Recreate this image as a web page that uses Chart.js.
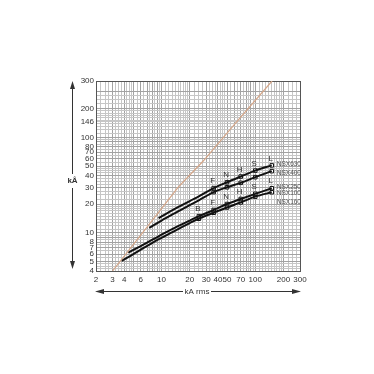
<!DOCTYPE html>
<html>
<head>
<meta charset="utf-8">
<script src="https://cdn.jsdelivr.net/npm/chart.js@4.4.1/dist/chart.umd.min.js"></script>
<style>
  html, body { margin: 0; padding: 0; background: #fff; }
</style>
</head>
<body>
<canvas id="myChart" width="374" height="374"></canvas>
<script>
// axis ticks (kA rms / kÂ)
const xTicks = [2, 3, 4, 6, 10, 20, 30, 40, 50, 70, 100, 200, 300];
const yTicks = [4, 5, 6, 7, 8, 10, 20, 30, 40, 50, 60, 70, 80, 100, 146, 200];
const yTopValue = 390;
const yTopLabel = '300';

// breaking capacities (kA rms) and their letters
const breakKA = [25, 36, 50, 70, 100, 150];
const breakLetters = ['B', 'F', 'N', 'H', 'S', 'L'];
const upperBreakKA = [36, 50, 70, 100, 150];   // NSX400/630 have no B

// limited peak current curves
const nsx630X = [9.3, 12, 15, 20, 25, 36, 50, 70, 100, 150];
const nsx630Y = [14.3, 16.5, 18.6, 21.6, 24.2, 29.5, 34, 39, 45, 51];
const nsx400X = [7.4, 10, 15, 20, 25, 36, 50, 70, 100, 150];
const nsx400Y = [11.3, 13.5, 16.8, 19.6, 22, 26.8, 30.1, 33.5, 38.4, 44.4];
const nsx250X = [4.42, 6, 8, 10, 15, 20, 25, 36, 50, 70, 100, 150];
const nsx250Y = [6.23, 7.3, 8.5, 9.6, 11.8, 13.5, 15, 17.4, 20.1, 22.7, 25.7, 29.4];
const nsx100X = [3.76, 5, 6, 8, 10, 15, 20, 25, 36, 50, 70, 100, 150];
const nsx100Y = [5.1, 6.0, 6.7, 7.9, 8.9, 11, 12.7, 14.1, 16.3, 18.5, 20.9, 24, 26.7];

// unlimited (asymmetric peak) line
const peakX = [3, 10, 15, 28, 60, 151];
const peakY = [4, 18, 30, 57, 137, 390];

function pts(xs, ys) { return xs.map((v, i) => ({ x: v, y: ys[i] })); }
function markers(xs, ys, list) {
  return pts(xs, ys).filter(p => list.includes(p.x));
}

// log paper lines
function paperLines(min, max) {
  const out = [];
  for (let e = 0; e <= 3; e++) {
    const d = Math.pow(10, e);
    const mults = [];
    for (let m = 1; m < 1.999; m += 0.1) mults.push(m);
    for (let m = 2; m < 4.999; m += 0.25) mults.push(m);
    for (let m = 5; m < 9.999; m += 0.5) mults.push(m);
    mults.forEach(m => {
      const v = +(m * d).toPrecision(6);
      if (v >= min && v <= max) out.push(v);
    });
  }
  return out;
}
function mergeTicks(a, b) {
  return Array.from(new Set(a.concat(b))).sort((p, q) => p - q);
}
const xGrid = mergeTicks(paperLines(2, 300), xTicks);
const yGrid = mergeTicks(paperLines(4, 300), yTicks.concat([yTopValue]));

function gridColor(v, min, max) {
  if (v === min || v === max) return '#555';
  const m = v / Math.pow(10, Math.floor(Math.log10(v) + 1e-9));
  if (Math.abs(m - Math.round(m)) < 1e-6) return '#a2a2a2';
  return '#c6c6c6';
}

const letterFont = '8px "Liberation Sans", Arial, sans-serif';
const nameFont = '6.5px "Liberation Sans", Arial, sans-serif';

const annotations = {
  id: 'annotations',
  afterDatasetsDraw(chart) {
    const { ctx, scales: { x, y } } = chart;
    ctx.save();
    ctx.fillStyle = '#333';
    ctx.font = letterFont;
    ctx.textAlign = 'center';
    ctx.textBaseline = 'bottom';
    // letters over upper pair and lower pair
    breakKA.forEach((k, i) => {
      if (upperBreakKA.includes(k)) {
        const i630 = nsx630X.indexOf(k);
        ctx.fillText(breakLetters[i], x.getPixelForValue(k) - 1, y.getPixelForValue(nsx630Y[i630]) - 3);
      }
      const i250 = nsx250X.indexOf(k);
      ctx.fillText(breakLetters[i], x.getPixelForValue(k) - 1, y.getPixelForValue(nsx250Y[i250]) - 3);
    });

    // series names
    ctx.fillStyle = '#555';
    ctx.font = nameFont;
    ctx.textAlign = 'left';
    ctx.textBaseline = 'middle';
    const nx = x.getPixelForValue(150) + 5;
    const last = a => a[a.length - 1];
    ctx.fillText('NSX630', nx, y.getPixelForValue(last(nsx630Y)) - 1);
    ctx.fillText('NSX400', nx, y.getPixelForValue(last(nsx400Y)) + 2);
    ctx.fillText('NSX250', nx, y.getPixelForValue(last(nsx250Y)) - 1);
    ctx.fillText('NSX100', nx, y.getPixelForValue(last(nsx100Y)) + 1);
    ctx.fillText('NSX160', nx, y.getPixelForValue(last(nsx100Y)) + 10);

    // axis arrows
    ctx.strokeStyle = '#333';
    ctx.fillStyle = '#333';
    ctx.lineWidth = 1;
    const ax = 72.5, top = 81, bot = 269, ly = 181;
    ctx.beginPath();
    ctx.moveTo(ax, top + 6); ctx.lineTo(ax, ly - 7);
    ctx.moveTo(ax, ly + 7); ctx.lineTo(ax, bot - 6);
    ctx.stroke();
    ctx.beginPath();
    ctx.moveTo(ax, top); ctx.lineTo(ax - 2.5, top + 8); ctx.lineTo(ax + 2.5, top + 8); ctx.closePath();
    ctx.moveTo(ax, bot); ctx.lineTo(ax - 2.5, bot - 8); ctx.lineTo(ax + 2.5, bot - 8); ctx.closePath();
    ctx.fill();
    ctx.font = 'bold 8px "Liberation Sans", Arial, sans-serif';
    ctx.textAlign = 'center';
    ctx.fillText('kÂ', ax, ly);

    const ay = 291.5, lx = 95, rx = 301, cx = 197;
    ctx.beginPath();
    ctx.moveTo(lx + 6, ay); ctx.lineTo(cx - 14, ay);
    ctx.moveTo(cx + 14, ay); ctx.lineTo(rx - 6, ay);
    ctx.stroke();
    ctx.beginPath();
    ctx.moveTo(lx, ay); ctx.lineTo(lx + 9, ay - 2.5); ctx.lineTo(lx + 9, ay + 2.5); ctx.closePath();
    ctx.moveTo(rx, ay); ctx.lineTo(rx - 9, ay - 2.5); ctx.lineTo(rx - 9, ay + 2.5); ctx.closePath();
    ctx.fill();
    ctx.font = '8px "Liberation Sans", Arial, sans-serif';
    ctx.fillText('kA rms', cx, ay);
    ctx.restore();
  }
};

const curveStyle = {
  showLine: true,
  borderColor: '#111',
  borderWidth: 2,
  pointRadius: 0,
  cubicInterpolationMode: 'monotone'
};
const markerStyle = {
  showLine: false,
  pointStyle: 'rect',
  pointRadius: 2.5,
  pointBackgroundColor: '#fff',
  pointBorderColor: '#111',
  pointBorderWidth: 1
};

new Chart(document.getElementById('myChart'), {
  type: 'scatter',
  data: {
    datasets: [
      { data: pts(peakX, peakY), showLine: true, borderColor: '#d4a587', borderWidth: 1.2, pointRadius: 0 },
      Object.assign({ data: pts(nsx630X, nsx630Y) }, curveStyle),
      Object.assign({ data: pts(nsx400X, nsx400Y) }, curveStyle),
      Object.assign({ data: pts(nsx250X, nsx250Y) }, curveStyle),
      Object.assign({ data: pts(nsx100X, nsx100Y) }, curveStyle),
      Object.assign({ data: markers(nsx630X, nsx630Y, upperBreakKA) }, markerStyle),
      Object.assign({ data: markers(nsx400X, nsx400Y, upperBreakKA) }, markerStyle),
      Object.assign({ data: markers(nsx250X, nsx250Y, breakKA) }, markerStyle),
      Object.assign({ data: markers(nsx100X, nsx100Y, breakKA) }, markerStyle)
    ]
  },
  options: {
    responsive: false,
    animation: false,
    layout: { padding: { top: 81, right: 74, left: 0, bottom: 0 } },
    plugins: { legend: { display: false }, tooltip: { enabled: false } },
    scales: {
      x: {
        type: 'logarithmic',
        min: 2,
        max: 300,
        afterBuildTicks: s => { s.ticks = xGrid.map(v => ({ value: v })); },
        afterFit: s => { s.height = 103; },
        grid: {
          drawTicks: false,
          color: c => gridColor(c.tick.value, 2, 300)
        },
        border: { color: '#555' },
        ticks: {
          autoSkip: false,
          minRotation: 0,
          maxRotation: 0,
          padding: 4,
          color: '#333',
          font: { family: '"Liberation Sans", Arial, sans-serif', size: 8 },
          callback: v => xTicks.includes(v) ? String(v) : ''
        }
      },
      y: {
        type: 'logarithmic',
        min: 4,
        max: yTopValue,
        afterBuildTicks: s => { s.ticks = yGrid.map(v => ({ value: v })); },
        afterFit: s => { s.width = 96; },
        grid: {
          drawTicks: false,
          color: c => gridColor(c.tick.value, 4, yTopValue)
        },
        border: { color: '#555' },
        ticks: {
          autoSkip: false,
          padding: 2,
          color: '#333',
          font: { family: '"Liberation Sans", Arial, sans-serif', size: 8 },
          callback: v => v === yTopValue ? yTopLabel : (yTicks.includes(v) ? String(v) : '')
        }
      }
    }
  },
  plugins: [annotations]
});
</script>
</body>
</html>
